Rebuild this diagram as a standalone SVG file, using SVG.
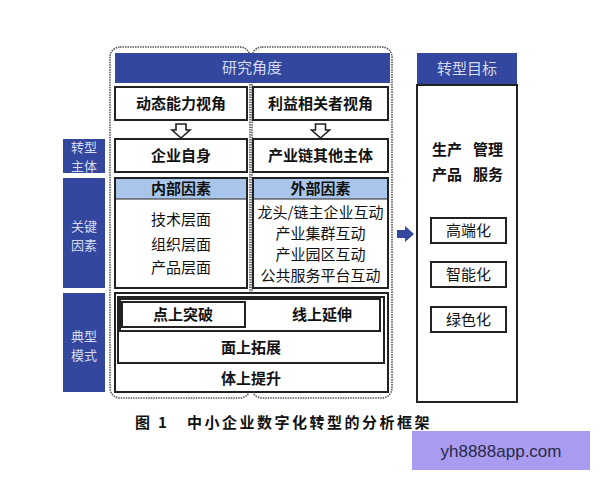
<svg xmlns="http://www.w3.org/2000/svg" width="600" height="480" viewBox="0 0 600 480">
<defs>
<style>
.bg{fill:#ffffff}
.frame{fill:none;stroke:#555;stroke-width:1.6;stroke-dasharray:1.5 1}
.blue{fill:#34479e}
.box{fill:#fff;stroke:#222;stroke-width:2}
.band{fill:#a9c6ea;stroke:none}
.t{font-family:"Noto Sans CJK SC","Noto Sans CJK TC",sans-serif;font-size:15px;fill:#111;text-anchor:middle}
.b{font-weight:bold}
.lt{font-family:"Noto Sans CJK SC",sans-serif;font-size:15px;fill:#d6dbef;text-anchor:middle}
.ls{font-family:"Noto Sans CJK SC",sans-serif;font-size:13px;fill:#d6dbef;text-anchor:middle}
.hollow{fill:#fff;stroke:#222;stroke-width:1.6;stroke-linejoin:miter}
.solid{fill:#34479e}
.cap{font-family:"Noto Sans CJK SC",sans-serif;font-size:15px;font-weight:bold;fill:#111}
</style>
</defs>
<rect class="bg" x="0" y="0" width="600" height="480"/>

<g id="frames">
<rect class="frame" x="110" y="47" width="140" height="351" rx="10"/>
<rect class="frame" x="252" y="47" width="140" height="351" rx="10"/>
</g>

<g id="header-research">
<rect class="blue" x="115" y="53" width="275" height="30"/>
<text class="lt" x="252" y="73">研究角度</text>
</g>

<g id="node-dynamic">
<rect class="box" x="115" y="87" width="132" height="33"/>
<text class="t b" x="181" y="109">动态能力视角</text>
</g>
<g id="node-stakeholder">
<rect class="box" x="253" y="87" width="135" height="33"/>
<text class="t b" x="320.5" y="109">利益相关者视角</text>
</g>

<g id="label-subject">
<rect class="blue" x="63" y="139" width="42" height="34"/>
<text class="ls" x="84" y="151.5">转型</text>
<text class="ls" x="84" y="170.5">主体</text>
</g>
<g id="node-self">
<rect class="box" x="115" y="139" width="132" height="33"/>
<text class="t b" x="181" y="161">企业自身</text>
</g>
<g id="node-chain">
<rect class="box" x="253" y="139" width="135" height="33"/>
<text class="t b" x="320.5" y="161">产业链其他主体</text>
</g>

<g id="label-factors">
<rect class="blue" x="63" y="178" width="42" height="110"/>
<text class="ls" x="84" y="230.5">关键</text>
<text class="ls" x="84" y="249.5">因素</text>
</g>
<g id="node-internal">
<rect class="box" x="115" y="178" width="132" height="110"/>
<rect class="band" x="116" y="179" width="130" height="20"/>
<line x1="116" y1="199" x2="246" y2="199" stroke="#222" stroke-width="1"/>
<text class="t b" x="181" y="194">内部因素</text>
<text class="t" x="181" y="225">技术层面</text>
<text class="t" x="181" y="250">组织层面</text>
<text class="t" x="181" y="273">产品层面</text>
</g>
<g id="node-external">
<rect class="box" x="253" y="178" width="135" height="110"/>
<rect class="band" x="254" y="179" width="133" height="20"/>
<line x1="254" y1="199" x2="387" y2="199" stroke="#222" stroke-width="1"/>
<text class="t b" x="320.5" y="194">外部因素</text>
<text class="t" x="320.5" y="218">龙头/链主企业互动</text>
<text class="t" x="320.5" y="239">产业集群互动</text>
<text class="t" x="320.5" y="260">产业园区互动</text>
<text class="t" x="320.5" y="281">公共服务平台互动</text>
</g>

<g id="label-modes">
<rect class="blue" x="63" y="293" width="42" height="99"/>
<text class="ls" x="84" y="340.5">典型</text>
<text class="ls" x="84" y="359.5">模式</text>
</g>
<g id="node-modes">
<rect class="box" x="115" y="293" width="273" height="99"/>
<rect class="box" x="118" y="297" width="266" height="66"/>
<rect class="box" x="120" y="299" width="260" height="32"/>
<rect class="box" x="122" y="302" width="123" height="25"/>
<text class="t b" x="183" y="320">点上突破</text>
<text class="t b" x="322" y="320">线上延伸</text>
<text class="t b" x="251" y="353">面上拓展</text>
<text class="t b" x="251" y="384">体上提升</text>
</g>

<g id="node-goal">
<rect class="blue" x="417" y="53" width="100" height="32"/>
<text class="lt" x="467" y="74">转型目标</text>
<rect class="box" x="417" y="85" width="100" height="317"/>
<text class="t b" x="447" y="155">生产</text>
<text class="t b" x="488" y="155">管理</text>
<text class="t b" x="447" y="180">产品</text>
<text class="t b" x="488" y="180">服务</text>
</g>
<g id="node-high">
<rect class="box" x="431" y="218" width="75" height="25"/>
<text class="t" x="468.5" y="236">高端化</text>
</g>
<g id="node-smart">
<rect class="box" x="431" y="262" width="75" height="25"/>
<text class="t" x="468.5" y="280">智能化</text>
</g>
<g id="node-green">
<rect class="box" x="431" y="307" width="75" height="25"/>
<text class="t" x="468.5" y="325">绿色化</text>
</g>

<g id="connectors">
<path class="hollow" d="M176,124 L186,124 L186,130 L190,130 L181,138 L172,130 L176,130 Z"/>
<path class="hollow" d="M315.5,124 L325.5,124 L325.5,130 L329.5,130 L320.5,138 L311.5,130 L315.5,130 Z"/>
<path class="solid" d="M397,230 L405,230 L405,226 L414,234 L405,242 L405,238 L397,238 Z"/>
</g>

<g id="caption">
<text class="cap" x="135" y="428">图</text>
<text class="cap" x="158" y="428" font-family="Liberation Serif,serif">1</text>
<text class="cap" x="187" y="428" letter-spacing="2.5">中小企业数字化转型的分析框架</text>
</g>

<g id="watermark">
<rect x="412" y="431" width="178" height="39" fill="#a99bef"/>
<text x="501" y="457" font-family="Liberation Sans,Arial,sans-serif" font-size="17" fill="#2a2a4a" text-anchor="middle">yh8888app.com</text>
</g>
</svg>
